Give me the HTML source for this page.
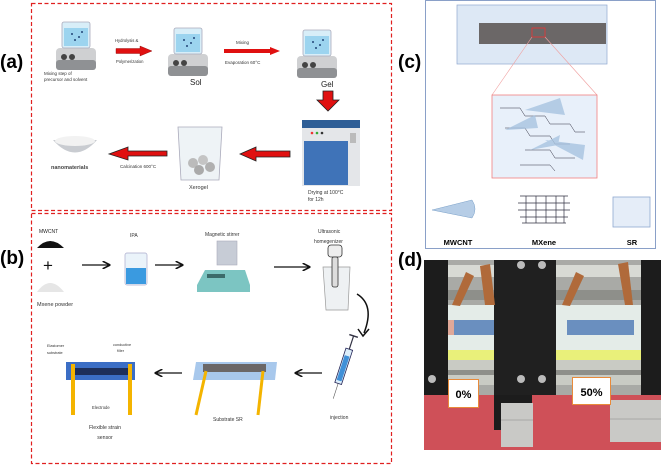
<!DOCTYPE html>
<html><head><meta charset="utf-8"><style>
html,body{margin:0;padding:0;background:#fff}
svg{display:block}
text{font-family:"Liberation Sans",sans-serif}
</style></head><body>
<svg width="661" height="467" viewBox="0 0 661 467" xmlns="http://www.w3.org/2000/svg">
<defs>
<marker id="ah" markerWidth="6" markerHeight="6" refX="5" refY="3" orient="auto"><path d="M0,0 L6,3 L0,6" fill="none" stroke="#111" stroke-width="1.2"/></marker>
<g id="stir">
<rect x="-20" y="18" width="40" height="22" rx="4" fill="#cfd0d2"/>
<rect x="-20" y="30" width="40" height="10" rx="3" fill="#8f9194"/>
<circle cx="-12" cy="27" r="3" fill="#444"/><circle cx="-4" cy="27" r="3" fill="#444"/>
<rect x="-14" y="-8" width="28" height="26" rx="2" fill="#d8eef8" stroke="#aab" stroke-width=".8"/>
<rect x="-12" y="-2" width="24" height="18" fill="#9cd4ef"/>
<circle cx="-4" cy="4" r="1" fill="#247"/><circle cx="3" cy="7" r="1" fill="#247"/><circle cx="-1" cy="10" r="1" fill="#247"/><circle cx="6" cy="2" r="1" fill="#247"/>
</g>
<g id="arrR"><path d="M0,-2.5 H24 V-5 L36,0 L24,5 V2.5 H0Z" fill="#e01010" stroke="#800" stroke-width=".4"/></g>
<g id="win">
<rect x="0" y="0" width="54" height="135" fill="#a9aaa6"/>
<rect x="0" y="5" width="54" height="12" fill="#d8dad4"/>
<rect x="0" y="30" width="54" height="10" fill="#8e8f8a"/>
<rect x="0" y="45" width="54" height="45" fill="#e4ece8"/>
<rect x="0" y="90" width="54" height="10" fill="#e9f07a"/>
<rect x="0" y="100" width="54" height="25" fill="#c9cbc4"/>
<rect x="0" y="110" width="54" height="5" fill="#8e8f8a"/>
</g>
</defs>

<!-- (a) -->
<rect x="31.5" y="3.5" width="360" height="207" fill="none" stroke="#e02020" stroke-width="1.2" stroke-dasharray="4,2.5"/>
<text x="0" y="68" font-size="19" font-weight="bold">(a)</text>
<use href="#stir" x="76" y="30"/>
<text x="44" y="75" font-size="4.5" fill="#333">Mixing step of</text>
<text x="44" y="81" font-size="4.5" fill="#333">precursor and solvent</text>
<use href="#arrR" x="116" y="51"/>
<text x="115" y="42" font-size="4.2" fill="#333">Hydrolysis &amp;</text>
<text x="116" y="63" font-size="4.2" fill="#333">Polymerization</text>
<use href="#stir" x="188" y="36"/>
<text x="190" y="85" font-size="8" fill="#222">Sol</text>
<path d="M224,49 H270 V47 L280,51 L270,55 V53 H224Z" fill="#e01010"/>
<text x="236" y="44" font-size="4.5" fill="#333">Mixing</text>
<text x="225" y="64" font-size="4.5" fill="#333">Evaporation 60°C</text>
<use href="#stir" x="317" y="38"/>
<text x="321" y="87" font-size="8" fill="#222">Gel</text>
<path d="M323,91 H333 V100 H339 L328,111 L317,100 H323Z" fill="#e01010" stroke="#222" stroke-width=".8"/>
<rect x="302" y="120" width="58" height="8" fill="#2e5e96"/>
<rect x="302" y="128" width="58" height="58" fill="#e4e6e9"/>
<rect x="304" y="141" width="44" height="44" fill="#3f73b8"/>
<rect x="350" y="133" width="6" height="10" fill="#bbb"/>
<circle cx="312" cy="133" r="1.3" fill="#e33"/><circle cx="317" cy="133" r="1.3" fill="#3a3"/><circle cx="322" cy="133" r="1.3" fill="#333"/>
<text x="308" y="194" font-size="5" fill="#333">Drying at 100°C</text>
<text x="308" y="201" font-size="5" fill="#333">for 12h</text>
<path d="M290,151 H256 V147 L240,154 L256,161 V157 H290Z" fill="#e01010" stroke="#222" stroke-width=".8"/>
<path d="M178,127 H222 L219,180 H181Z" fill="#eef3f6" stroke="#aab" stroke-width=".8"/>
<circle cx="193" cy="163" r="5" fill="#bbb"/><circle cx="203" cy="160" r="5" fill="#c4c4c4"/><circle cx="210" cy="167" r="5" fill="#b0b0b0"/><circle cx="199" cy="170" r="5" fill="#aaa"/>
<text x="189" y="189" font-size="5.5" font-family="Liberation Serif" fill="#333">Xerogel</text>
<path d="M167,151 H128 V147 L109,154 L128,160 V156 H167Z" fill="#e01010" stroke="#222" stroke-width=".8"/>
<text x="120" y="168" font-size="4.5" fill="#333">Calcination 600°C</text>
<path d="M53,140 Q75,165 97,140Z" fill="#c9ccd1"/><ellipse cx="75" cy="141" rx="20" ry="5" fill="#f2f2f2"/>
<text x="51" y="169" font-size="5.5" font-weight="bold" fill="#444">nanomaterials</text>

<!-- (b) -->
<rect x="31.5" y="213.5" width="360" height="250" fill="none" stroke="#e02020" stroke-width="1.2" stroke-dasharray="4,2.5"/>
<text x="0" y="264" font-size="19" font-weight="bold">(b)</text>
<text x="39" y="233" font-size="5" fill="#222">MWCNT</text>
<path d="M37,248 Q50,234 64,248Z" fill="#111"/>
<text x="43" y="271" font-size="17" fill="#111">+</text>
<path d="M37,292 Q50,274 64,292Z" fill="#e6e6e6"/>
<text x="37" y="306" font-size="5.5" fill="#333">Mxene powder</text>
<line x1="82" y1="265" x2="109" y2="265" stroke="#111" stroke-width="1.3" marker-end="url(#ah)"/>
<text x="130" y="237" font-size="5" fill="#333">IPA</text>
<rect x="125" y="253" width="22" height="32" rx="2" fill="#eaf3fa" stroke="#aac" stroke-width=".7"/>
<rect x="126" y="268" width="20" height="16" fill="#3a9ae0"/>
<line x1="155" y1="265" x2="182" y2="265" stroke="#111" stroke-width="1.3" marker-end="url(#ah)"/>
<text x="205" y="236" font-size="5" fill="#333">Magnetic stirrer</text>
<rect x="217" y="241" width="20" height="24" fill="#c7ccd6" stroke="#aab" stroke-width=".6"/>
<path d="M197,285 L205,270 H245 L250,285 V292 H197Z" fill="#7cc5c2"/>
<rect x="207" y="274" width="18" height="4" fill="#3c6b6a"/>
<line x1="274" y1="267" x2="309" y2="267" stroke="#111" stroke-width="1.3" marker-end="url(#ah)"/>
<text x="318" y="233" font-size="5" fill="#333">Ultrasonic</text>
<text x="314" y="243" font-size="5" fill="#333">homegenizer</text>
<path d="M323,267 H350 L348,310 H326Z" fill="#eef1f3" stroke="#999" stroke-width=".7"/>
<rect x="328" y="245" width="14" height="12" rx="3" fill="#eee" stroke="#333" stroke-width=".8"/>
<rect x="332" y="257" width="6" height="30" rx="2" fill="#ddd" stroke="#333" stroke-width=".8"/>
<path d="M357,294 Q375,305 364,333" fill="none" stroke="#111" stroke-width="1.5"/>
<path d="M358,329 L363,336 L369,329" fill="none" stroke="#111" stroke-width="1.5"/>
<g transform="rotate(18 342 370)">
<rect x="339" y="348" width="7" height="36" fill="#ddeefa" stroke="#225" stroke-width=".8"/>
<rect x="340" y="355" width="5" height="26" fill="#4090d8"/>
<line x1="342.5" y1="334" x2="342.5" y2="348" stroke="#334" stroke-width="1.2"/>
<line x1="338" y1="334" x2="347" y2="334" stroke="#334" stroke-width="1.5"/>
<line x1="342.5" y1="384" x2="342.5" y2="400" stroke="#555" stroke-width=".6"/>
</g>
<text x="330" y="419" font-size="5" fill="#333">injection</text>
<line x1="322" y1="373" x2="296" y2="373" stroke="#111" stroke-width="1.3" marker-end="url(#ah)"/>
<path d="M196,362 H277 L275,380 H193Z" fill="#a8c8ec"/>
<rect x="203" y="364" width="63" height="8" fill="#6b6767"/>
<line x1="206" y1="371" x2="196" y2="415" stroke="#f4b400" stroke-width="3"/>
<line x1="263" y1="371" x2="258" y2="415" stroke="#f4b400" stroke-width="3"/>
<text x="213" y="421" font-size="5" fill="#333">Substrate SR</text>
<line x1="182" y1="373" x2="156" y2="373" stroke="#111" stroke-width="1.3" marker-end="url(#ah)"/>
<rect x="66" y="362" width="69" height="18" fill="#3b6ec5"/>
<rect x="72" y="368" width="58" height="7" fill="#1d2f5a"/>
<rect x="71" y="364" width="4" height="51" fill="#f4b400"/>
<rect x="128" y="364" width="4" height="51" fill="#f4b400"/>
<text x="47" y="347" font-size="3.8" fill="#333">Elastomer</text>
<text x="47" y="354" font-size="3.8" fill="#333">substrate</text>
<text x="113" y="346" font-size="3.8" fill="#333">conductive</text>
<text x="117" y="352" font-size="3.8" fill="#333">filler</text>
<text x="92" y="409" font-size="4.2" fill="#333">Electrode</text>
<text x="105" y="429" font-size="5.2" fill="#333" text-anchor="middle">Flexible strain</text>
<text x="105" y="439" font-size="5.2" fill="#333" text-anchor="middle">sensor</text>

<!-- (c) -->
<text x="398" y="68" font-size="19" font-weight="bold">(c)</text>
<rect x="425.5" y="0.5" width="230" height="248" fill="#fff" stroke="#8aa0c8" stroke-width="1"/>
<rect x="457" y="5" width="150" height="59" fill="#dde8f5" stroke="#8fa8d0" stroke-width=".7"/>
<rect x="479" y="23" width="127" height="21" fill="#6b6767"/>
<rect x="532" y="28" width="13" height="9" fill="none" stroke="#e33" stroke-width=".8"/>
<line x1="532" y1="37" x2="492" y2="95" stroke="#f0a0a0" stroke-width=".6"/>
<line x1="545" y1="37" x2="597" y2="95" stroke="#f0a0a0" stroke-width=".6"/>
<rect x="492" y="95" width="105" height="83" fill="#e8f0fa" stroke="#f08080" stroke-width=".8"/>
<g fill="none" stroke="#334" stroke-width=".5">
<path d="M500,108 h20 l5,8 h20 l5,8 h20 l5,8 h10 M505,128 h20 l5,8 h20 l5,8 h15 M525,150 h25 l5,8 h20 M520,165 h30 l5,6"/>
</g>
<g fill="#a8c4e0" opacity=".8">
<path d="M505,130 L535,115 L538,128Z"/><path d="M525,110 L560,98 L565,115Z"/><path d="M545,140 L585,145 L583,160Z"/><path d="M530,150 L560,135 L558,145Z"/>
</g>
<path d="M432,210 L472,200 Q478,209 472,218Z" fill="#b6cde6" stroke="#7aa0c8" stroke-width=".5"/>
<g fill="none" stroke="#334" stroke-width=".7">
<path d="M520,196 h48 M518,203 h52 M518,210 h52 M520,217 h48 M522,223 h44"/>
<path d="M526,196 v27 M536,196 v27 M546,196 v27 M556,196 v27 M564,196 v27"/>
</g>
<rect x="613" y="197" width="37" height="30" fill="#e5edf8" stroke="#8fa8d0" stroke-width=".8"/>
<text x="458" y="245" font-size="7.5" font-weight="bold" text-anchor="middle">MWCNT</text>
<text x="544" y="245" font-size="7.5" font-weight="bold" text-anchor="middle">MXene</text>
<text x="632" y="245" font-size="7.5" font-weight="bold" text-anchor="middle">SR</text>

<!-- (d) -->
<text x="398" y="266" font-size="19" font-weight="bold">(d)</text>
<rect x="424" y="260" width="237" height="190" fill="#cf5058"/>
<use href="#win" x="447" y="260"/>
<use href="#win" x="554" y="260" transform="translate(0,0)"/>
<rect x="554" y="260" width="87" height="135" fill="#a9aaa6"/>
<rect x="554" y="265" width="87" height="12" fill="#d8dad4"/>
<rect x="554" y="290" width="87" height="10" fill="#8e8f8a"/>
<rect x="554" y="305" width="87" height="45" fill="#e4ece8"/>
<rect x="554" y="350" width="87" height="10" fill="#e9f07a"/>
<rect x="554" y="360" width="87" height="25" fill="#c9cbc4"/>
<rect x="554" y="370" width="87" height="5" fill="#8e8f8a"/>
<rect x="454" y="320" width="40" height="15" fill="#6a8fbf"/>
<rect x="567" y="320" width="67" height="15" fill="#6a8fbf"/>
<rect x="448" y="320" width="6" height="15" fill="#e0a898"/>
<rect x="494" y="320" width="6" height="15" fill="#e0a898"/>
<rect x="424" y="260" width="24" height="135" fill="#1c1c1c"/>
<rect x="494" y="260" width="62" height="135" fill="#202020"/>
<rect x="494" y="395" width="38" height="35" fill="#1c1c1c"/>
<rect x="641" y="260" width="20" height="135" fill="#1c1c1c"/>
<circle cx="432" cy="379" r="4" fill="#bbb"/><circle cx="521" cy="379" r="4" fill="#bbb"/><circle cx="542" cy="379" r="4" fill="#bbb"/><circle cx="521" cy="265" r="4" fill="#bbb"/><circle cx="542" cy="265" r="4" fill="#bbb"/>
<path d="M452,305 L466,272 L474,276 L460,306Z" fill="#b06a3a"/>
<path d="M485,305 L480,266 L490,264 L495,305Z" fill="#b06a3a"/>
<path d="M562,305 L576,272 L584,276 L570,306Z" fill="#b06a3a"/>
<path d="M625,305 L618,264 L628,262 L633,305Z" fill="#b06a3a"/>
<rect x="501" y="403" width="32" height="44" fill="#c9c9c6"/>
<rect x="610" y="400" width="51" height="42" fill="#c9c9c6"/>
<line x1="501" y1="420" x2="533" y2="420" stroke="#888" stroke-width=".5"/>
<line x1="610" y1="419" x2="661" y2="419" stroke="#888" stroke-width=".5"/>
<rect x="448.5" y="379.5" width="30" height="28" fill="#fff" stroke="#e88a3a" stroke-width="1"/>
<text x="463.5" y="398" font-size="11" font-weight="bold" text-anchor="middle">0%</text>
<rect x="572.5" y="377.5" width="38" height="27" fill="#fff" stroke="#e88a3a" stroke-width="1"/>
<text x="591.5" y="396" font-size="11" font-weight="bold" text-anchor="middle">50%</text>
</svg>
</body></html>
